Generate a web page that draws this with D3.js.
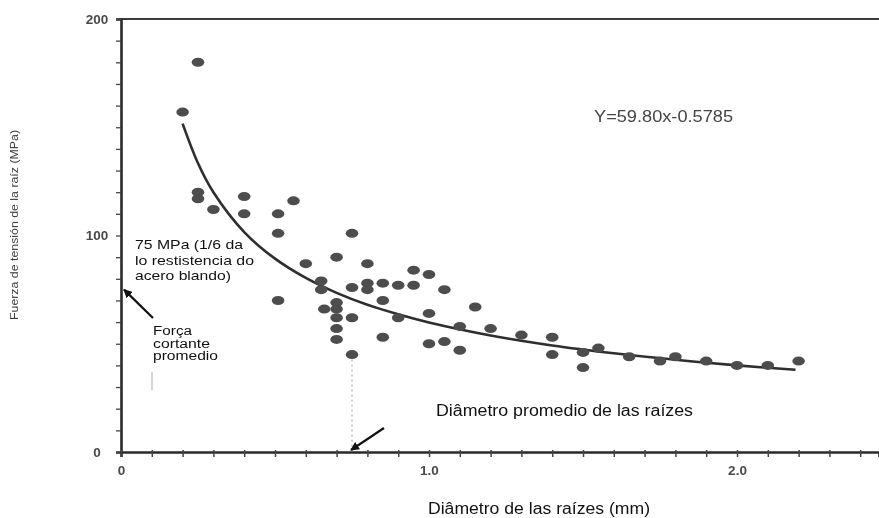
<!DOCTYPE html>
<html><head><meta charset="utf-8">
<script src="https://cdn.jsdelivr.net/npm/d3@7"></script>
<style>body{margin:0;background:#fff}svg{display:block}</style>
</head><body>
<svg id="chart" width="879" height="518"></svg>
<script>
// ---- data ----
const diameters = [0.20,0.25,0.25,0.25,0.30,0.40,0.40,0.51,0.51,0.56,0.75,0.51,0.60,0.70,0.80,0.95,1.00,
  0.65,0.65,0.70,0.70,0.70,0.70,0.70,0.75,0.80,0.80,0.85,0.85,0.90,0.95,0.66,0.75,0.90,0.85,0.75,
  1.05,1.15,1.00,1.10,1.20,1.00,1.05,1.10,1.30,1.40,1.40,1.50,1.50,1.55,1.65,1.75,1.80,1.90,2.00,2.10,2.20];
const strengths = [157,180,120,117,112,118,110,110,101,116,101,70,87,90,87,84,82,
  79,75,69,66,62,57,52,76,78,75,78,70,77,77,66,62,62,53,45,
  75,67,64,58,57,50,51,47,54,53,45,46,39,48,44,42,44,42,40,40,42];
const fitDiameters = [0.20,0.25,0.30,0.40,0.50,0.60,0.70,0.80,0.90,1.00,1.20,1.40,1.60,1.80,2.00,2.19];
const fitStrengths = [151.7,133.4,120.0,101.6,89.3,80.4,73.5,68.0,63.6,59.8,53.8,49.2,45.6,42.6,40.0,38.0];
const xMinorTicks = d3.range(0, 25).map(i => i / 10);
const yMinorTicks = d3.range(0, 21).map(i => i * 10);
const xTickValues = [0, 1, 2];
const xTickLabels = ["0", "1.0", "2.0"];
const yTickValues = [0, 100, 200];
const yTickLabels = ["0", "100", "200"];
const equationText = "Y=59.80x-0.5785";
const xTitle = "Diâmetro de las raízes (mm)";
const yTitle = "Fuerza de tensión de la raíz (MPa)";
const meanStress = 75;
const meanDiameter = 0.75;
const meanDiameterTop = 45;
const stressNote = ["75 MPa (1/6 da", "lo restistencia do", "acero blando)"];
const forceNote = ["Força", "cortante", "promedio"];
const diameterNote = "Diâmetro promedio de las raízes";

// ---- drawing ----
const svg = d3.select("#chart");
const W = 879, H = 518;
const x = d3.scaleLinear().domain([0, 2.461]).range([121, 879]);
const y = d3.scaleLinear().domain([0, 200]).range([452, 19]);
const font = "'Liberation Sans', Arial, sans-serif";

const defs = svg.append("defs");
defs.append("filter").attr("id", "blur").attr("x", "-20%").attr("y", "-20%").attr("width", "140%").attr("height", "140%")
  .append("feGaussianBlur").attr("stdDeviation", 0.7);
defs.append("filter").attr("id", "blurT").append("feGaussianBlur").attr("stdDeviation", 0.45);
defs.append("marker").attr("id", "arrow").attr("viewBox", "0 0 10 10").attr("refX", 9).attr("refY", 5)
  .attr("markerWidth", 4).attr("markerHeight", 4).attr("orient", "auto")
  .append("path").attr("d", "M0,0 L10,5 L0,10 z").attr("fill", "#111");

svg.append("rect").attr("width", W).attr("height", H).attr("fill", "#fff");

const data = diameters.map((d, i) => ({d, s: strengths[i]}));
const fit = fitDiameters.map((d, i) => ({d, s: fitStrengths[i]}));

// frame / axes
const axesG = svg.append("g").attr("filter", "url(#blur)");
axesG.append("line").attr("x1", x(0) - 2).attr("x2", W).attr("y1", y(200)).attr("y2", y(200))
  .attr("stroke", "#3a3a3a").attr("stroke-width", 2.2);

const yAx = axesG.append("g").attr("transform", `translate(${x(0)},0)`)
  .call(d3.axisLeft(y).tickValues(yMinorTicks).tickSize(5).tickFormat(""));
yAx.select(".domain").attr("stroke", "#2a2a2a").attr("stroke-width", 2.6);
yAx.selectAll(".tick line").attr("stroke", "#444").attr("stroke-width", 1.3);

const xAx = axesG.append("g").attr("transform", `translate(0,${y(0)})`)
  .call(d3.axisBottom(x).tickValues(xMinorTicks).tickSize(5).tickFormat(""));
xAx.select(".domain").attr("stroke", "#2a2a2a").attr("stroke-width", 2.6);
xAx.selectAll(".tick line").attr("y1", -2).attr("stroke", "#444").attr("stroke-width", 1.5);

// tick labels
const labG = svg.append("g").attr("filter", "url(#blurT)");
const yLab = labG.append("g").attr("transform", `translate(${x(0)},0)`)
  .call(d3.axisLeft(y).tickValues(yTickValues).tickSize(0).tickFormat((d, i) => yTickLabels[i]));
yLab.select(".domain").remove();
yLab.selectAll("text").attr("x", -24).attr("text-anchor", "middle")
  .attr("font-family", font).attr("font-weight", "bold").attr("font-size", 13.5).attr("fill", "#4a4a4a");
const xLab = labG.append("g").attr("transform", `translate(0,${y(0)})`)
  .call(d3.axisBottom(x).tickValues(xTickValues).tickSize(0).tickFormat((d, i) => xTickLabels[i]));
xLab.select(".domain").remove();
xLab.selectAll("text").attr("y", 13).attr("font-family", font).attr("font-weight", "bold")
  .attr("font-size", 13.5).attr("fill", "#4a4a4a");

// y title
labG.append("text").attr("transform", `translate(18,225) rotate(-90)`).attr("text-anchor", "middle")
  .attr("font-family", font).attr("font-size", 10).attr("fill", "#3a3a3a")
  .attr("textLength", 190).attr("lengthAdjust", "spacingAndGlyphs").text(yTitle);

// equation
labG.append("text").attr("x", 594).attr("y", 122).attr("font-family", font).attr("font-size", 17)
  .attr("fill", "#444").attr("textLength", 139).attr("lengthAdjust", "spacingAndGlyphs").text(equationText);

// data layer
const dataG = svg.append("g").attr("filter", "url(#blur)");
dataG.append("line").attr("x1", x(meanDiameter)).attr("x2", x(meanDiameter))
  .attr("y1", y(meanDiameterTop)).attr("y2", y(0)).attr("stroke", "#999").attr("stroke-width", 1)
  .attr("stroke-dasharray", "2,3");
dataG.append("path").datum(fit)
  .attr("d", d3.line().x(p => x(p.d)).y(p => y(p.s)).curve(d3.curveCatmullRom))
  .attr("fill", "none").attr("stroke", "#2e2e2e").attr("stroke-width", 2.6);
dataG.selectAll("ellipse.pt").data(data).join("ellipse").attr("class", "pt")
  .attr("cx", p => x(p.d)).attr("cy", p => y(p.s)).attr("rx", 6.3).attr("ry", 4.5).attr("fill", "#4e4e4e");

// annotations
function lines(g, arr, x0, y0, dy, widths, size) {
  arr.forEach((t, i) => {
    g.append("text").attr("x", x0).attr("y", y0 + i * dy).attr("font-family", font).attr("font-size", size)
      .attr("fill", "#111").attr("textLength", widths[i]).attr("lengthAdjust", "spacingAndGlyphs").text(t);
  });
}
const annG = svg.append("g");
lines(annG, stressNote, 135, 249, 15.5, [108, 119, 96], 13.5);
lines(annG, forceNote, 153, 335, 12.5, [39, 57, 65], 12);
annG.append("line").attr("x1", 152).attr("y1", 372).attr("x2", 152).attr("y2", 390).attr("stroke", "#aaa").attr("stroke-width", 1);
annG.append("text").attr("x", 436).attr("y", 416).attr("font-family", font).attr("font-size", 16)
  .attr("fill", "#111").attr("textLength", 257).attr("lengthAdjust", "spacingAndGlyphs").text(diameterNote);
annG.append("text").attr("x", 428).attr("y", 514).attr("font-family", font).attr("font-size", 16)
  .attr("fill", "#111").attr("textLength", 222).attr("lengthAdjust", "spacingAndGlyphs").text(xTitle);

// arrows
annG.append("line").attr("x1", 153).attr("y1", 318).attr("x2", x(0) + 3).attr("y2", y(meanStress))
  .attr("stroke", "#111").attr("stroke-width", 2.2).attr("marker-end", "url(#arrow)");
annG.append("line").attr("x1", 384).attr("y1", 428).attr("x2", x(meanDiameter) - 1).attr("y2", y(0) - 2)
  .attr("stroke", "#111").attr("stroke-width", 2.2).attr("marker-end", "url(#arrow)");
</script>
</body></html>
